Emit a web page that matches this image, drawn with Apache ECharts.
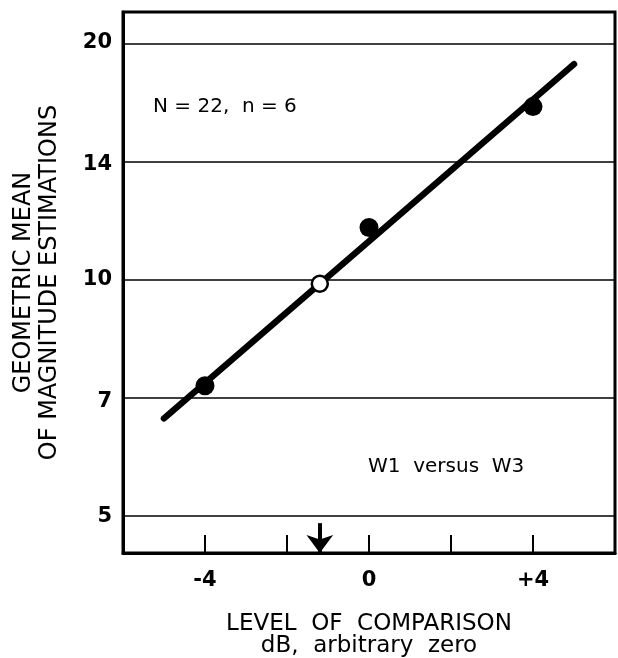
<!DOCTYPE html>
<html>
<head>
<meta charset="utf-8">
<script src="https://cdn.jsdelivr.net/npm/echarts@6/dist/echarts.min.js"></script>
<style>html,body{margin:0;padding:0;background:#fff}#c{width:618px;height:658px}</style>
</head>
<body>
<div id="c"></div>
<script>
// ---- data ----
const xMin = -6, xMax = 6;
const yMinVal = 4.49, yMaxVal = 21.9;
const yTickValues = [5, 7, 10, 14, 20];
const xLabelValues = [-4, 0, 4];
const xLabelTexts = ['-4', '0', '+4'];
const filledX = [-4, 0, 4];
const filledY = [7.33, 11.65, 16.6];
const openX = [-1.2];
const openY = [9.88];
const fitX = [-5, 5];
const fitY = [6.66, 18.8];
const arrowX = -1.2;
const arrowY = [4.9, 4.49];

const L = Math.log10;
const pairs = (xs, ys) => xs.map((x, i) => [x, L(ys[i])]);

const chart = echarts.init(document.getElementById('c'), null, {renderer: 'canvas'});
const FONT = 'DejaVu Sans';
chart.setOption({
  animation: false,
  grid: {left: 123, top: 12, right: 3, bottom: 105, containLabel: false, outerBoundsMode: 'none',
         show: true, borderColor: '#000', borderWidth: 3, backgroundColor: 'transparent'},
  xAxis: {
    type: 'value', min: xMin, max: xMax, interval: 2,
    axisLine: {show: true, onZero: false, lineStyle: {color: '#000', width: 3}},
    axisTick: {show: true, inside: true, length: 18, lineStyle: {color: '#000', width: 2}},
    splitLine: {show: false},
    axisLabel: {
      margin: 17, color: '#000', fontFamily: FONT, fontWeight: 'bold', fontSize: 21,
      formatter: v => { const i = xLabelValues.indexOf(v); return i >= 0 ? xLabelTexts[i] : ''; }
    },
    name: 'LEVEL  OF  COMPARISON\ndB,  arbitrary  zero',
    nameLocation: 'middle', nameGap: 60,
    nameTextStyle: {color: '#000', fontFamily: FONT, fontSize: 23, lineHeight: 22, align: 'center', verticalAlign: 'top'}
  },
  yAxis: {
    type: 'value', min: L(yMinVal), max: L(yMaxVal),
    axisLine: {show: true, onZero: false, lineStyle: {color: '#000', width: 3}},
    axisTick: {show: false},
    splitLine: {show: false},
    axisLabel: {
      customValues: yTickValues.map(L), margin: 11,
      color: '#000', fontFamily: FONT, fontWeight: 'bold', fontSize: 21,
      formatter: v => String(Math.round(Math.pow(10, v)))
    },
    name: 'GEOMETRIC MEAN\nOF MAGNITUDE ESTIMATIONS',
    nameLocation: 'middle', nameGap: 60, nameRotate: 90,
    nameTextStyle: {color: '#000', fontFamily: FONT, fontSize: 24, lineHeight: 26, align: 'center'}
  },
  series: [
    {
      type: 'line', data: [], silent: true,
      markLine: {
        silent: true, symbol: ['none', 'none'], label: {show: false},
        lineStyle: {color: '#000', width: 1.5, type: 'solid', opacity: 1},
        data: yTickValues.map(v => ({yAxis: L(v)}))
      }
    },
    {
      type: 'line', data: pairs(fitX, fitY), showSymbol: false, silent: true,
      lineStyle: {color: '#000', width: 6.5, cap: 'round'}, z: 3
    },
    {
      type: 'scatter', data: pairs(filledX, filledY), symbol: 'circle', symbolSize: 19,
      itemStyle: {color: '#000', opacity: 1}, z: 4
    },
    {
      type: 'scatter', data: pairs(openX, openY), symbol: 'circle', symbolSize: 16,
      itemStyle: {color: '#fff', borderColor: '#000', borderWidth: 2.5, opacity: 1}, z: 5
    },
    {
      type: 'line', data: [], silent: true,
      markLine: {
        silent: true, symbol: ['none', 'arrow'], symbolSize: [20, 18], label: {show: false},
        lineStyle: {color: '#000', width: 4, type: 'solid', opacity: 1},
        data: [[{coord: [arrowX, L(arrowY[0])]}, {coord: [arrowX, L(arrowY[1])]}]]
      }
    }
  ],
  graphic: [
    {type: 'text', left: 153, top: 97, style: {text: 'N = 22,  n = 6', font: '20px "DejaVu Sans"', fill: '#000'}},
    {type: 'text', left: 368, top: 457, style: {text: 'W1  versus  W3', font: '20px "DejaVu Sans"', fill: '#000'}}
  ]
});
</script>
</body>
</html>
